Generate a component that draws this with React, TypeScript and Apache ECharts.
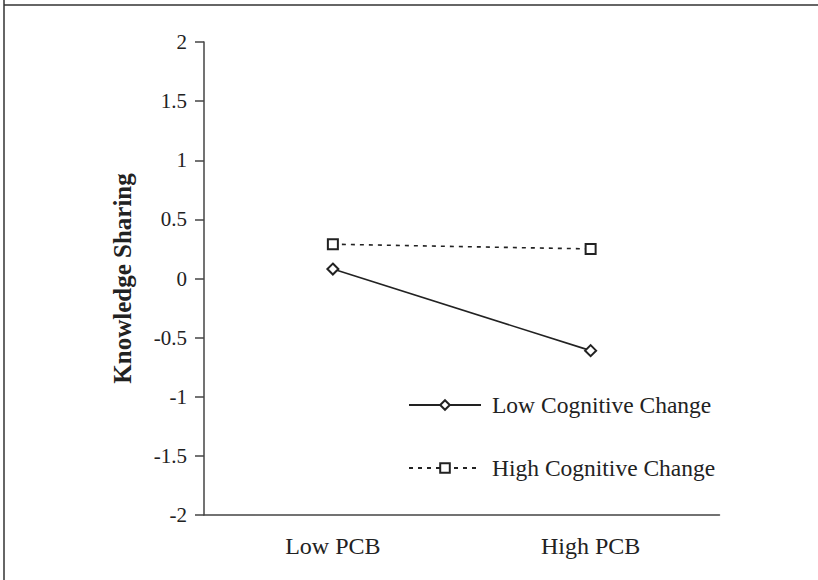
import React, { useEffect, useRef } from "react";
import * as echarts from "echarts";

const categories = ["Low PCB", "High PCB"];
const lowCognitive = [0.08, -0.61];
const highCognitive = [0.29, 0.25];
const seriesNames = ["Low Cognitive Change", "High Cognitive Change"];
const yAxisName = "Knowledge Sharing";

const FONT = "'Liberation Serif', 'Times New Roman', serif";
const INK = "#222";

export default function App() {
  const ref = useRef<HTMLDivElement>(null);
  useEffect(() => {
    if (!ref.current) return;
    const chart = echarts.init(ref.current, undefined, { renderer: "svg" });
    chart.setOption({
      animation: false,
      backgroundColor: "#fff",
      grid: { left: 204, top: 42, right: 98.5, bottom: 65 },
      graphic: [
        { type: "line", shape: { x1: 4, y1: 0, x2: 4, y2: 580 }, style: { stroke: "#333", lineWidth: 1.5 } },
        { type: "line", shape: { x1: 4, y1: 5, x2: 818, y2: 5 }, style: { stroke: "#333", lineWidth: 1.5 } },
      ],
      xAxis: {
        type: "category",
        data: categories,
        boundaryGap: true,
        axisLine: { onZero: false, lineStyle: { color: "#444", width: 1.5 } },
        axisTick: { length: 8, lineStyle: { color: "#444", width: 1.5 } },
        axisLabel: { color: INK, fontFamily: FONT, fontSize: 24, margin: 19 },
      },
      yAxis: {
        type: "value",
        min: -2,
        max: 2,
        interval: 0.5,
        name: yAxisName,
        nameLocation: "middle",
        nameGap: 69,
        nameRotate: 90,
        nameTextStyle: { color: INK, fontFamily: FONT, fontSize: 25, fontWeight: "bold" },
        splitLine: { show: false },
        axisLine: { show: true, lineStyle: { color: "#444", width: 1.5 } },
        axisTick: { show: true, length: 9, lineStyle: { color: "#444", width: 1.5 } },
        axisLabel: { color: INK, fontFamily: FONT, fontSize: 21, margin: 17 },
      },
      legend: {
        orient: "vertical",
        left: 403,
        top: 388,
        itemWidth: 72,
        itemHeight: 12,
        itemGap: 39,
        data: seriesNames,
        textStyle: { color: INK, fontFamily: FONT, fontSize: 23.5, padding: [0, 0, 0, 6] },
      },
      series: [
        {
          name: seriesNames[0],
          type: "line",
          data: lowCognitive,
          symbol: "emptyDiamond",
          symbolSize: 11,
          lineStyle: { color: INK, width: 1.6, type: "solid" },
          itemStyle: { color: INK, borderColor: INK, borderWidth: 1.6 },
        },
        {
          name: seriesNames[1],
          type: "line",
          data: highCognitive,
          symbol: "emptyRect",
          symbolSize: 10,
          lineStyle: { color: INK, width: 1.6, type: [4, 5] },
          itemStyle: { color: INK, borderColor: INK, borderWidth: 1.6 },
        },
      ],
    });
    return () => chart.dispose();
  }, []);
  return <div ref={ref} style={{ width: 818, height: 580, position: "fixed", left: 0, top: 0 }} />;
}
